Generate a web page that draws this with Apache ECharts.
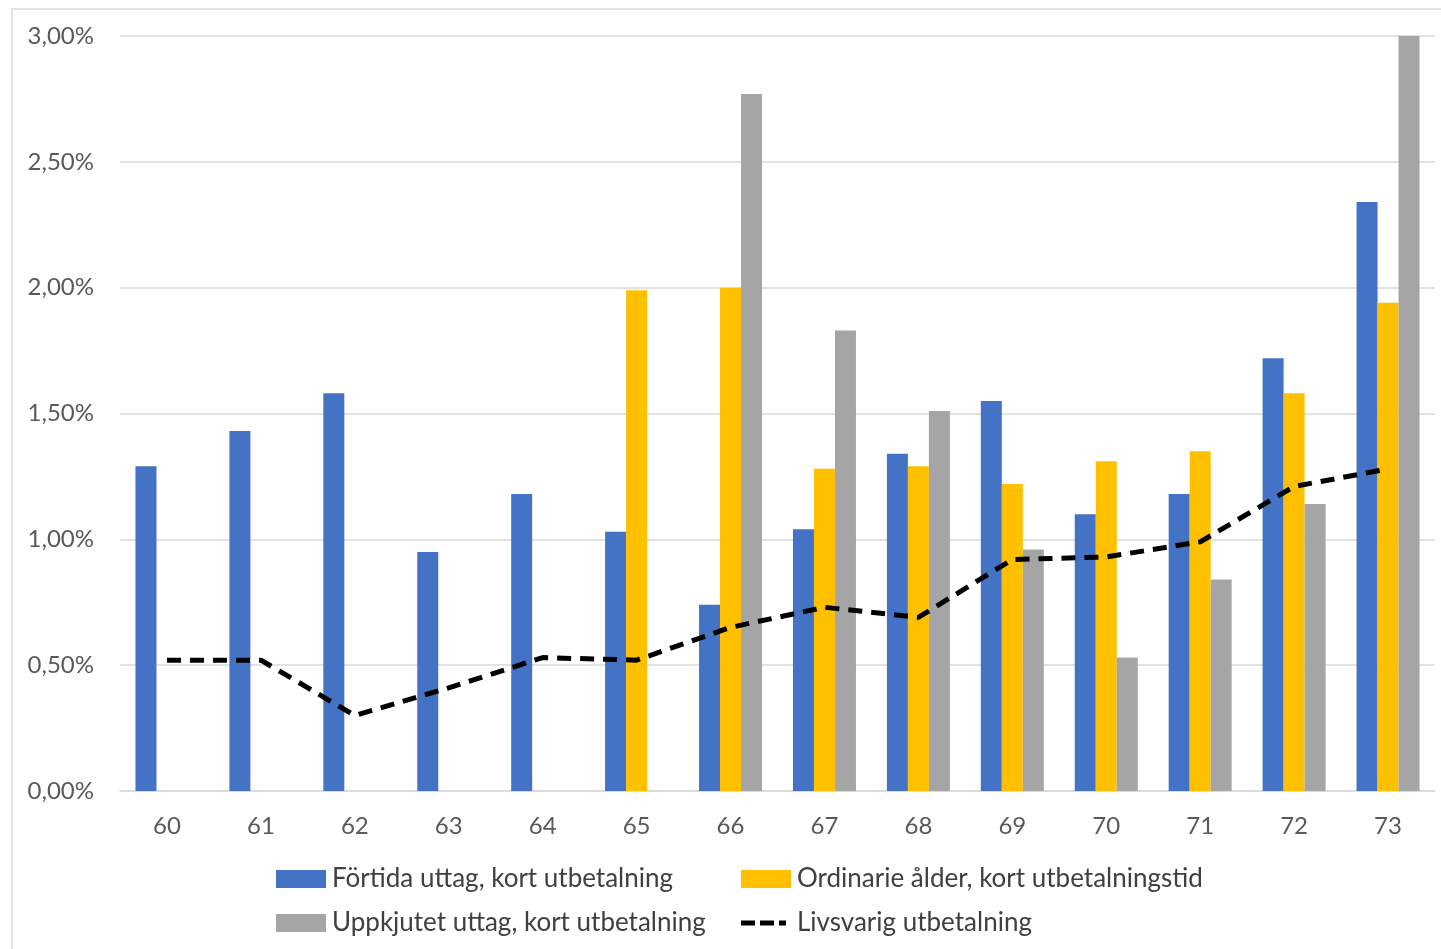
<!DOCTYPE html>
<html>
<head>
<meta charset="utf-8">
<script src="https://cdn.jsdelivr.net/npm/echarts@6/dist/echarts.min.js"></script>
<style>
    html, body { margin: 0; padding: 0; background: #fff; }
    #chart { width: 1441px; height: 949px; }
</style>
</head>
<body>
<div id="chart"></div>
<script>
// ålder vid uttag
var categories = ["60", "61", "62", "63", "64", "65", "66", "67", "68", "69", "70", "71", "72", "73"];
var legendNames = [
    "Förtida uttag, kort utbetalning",
    "Ordinarie ålder, kort utbetalningstid",
    "Uppkjutet uttag, kort utbetalning",
    "Livsvarig utbetalning"
];
// värden i procent
var fortida = [1.29, 1.43, 1.58, 0.95, 1.18, 1.03, 0.74, 1.04, 1.34, 1.55, 1.10, 1.18, 1.72, 2.34];
var ordinarie = [null, null, null, null, null, 1.99, 2.00, 1.28, 1.29, 1.22, 1.31, 1.35, 1.58, 1.94];
var uppskjutet = [null, null, null, null, null, null, 2.77, 1.83, 1.51, 0.96, 0.53, 0.84, 1.14, 3.00];
var livsvarig = [0.52, 0.52, 0.30, 0.41, 0.53, 0.52, 0.65, 0.73, 0.69, 0.92, 0.93, 0.99, 1.21, 1.28];

var myChart = echarts.init(document.getElementById("chart"));

var fontFam = "Lato, 'Open Sans', sans-serif";
// streckad ikon för linjeserien i förklaringen
var dashIcon = 'path://M0,0M50,18M0,6.5h14v5h-14zM19,6.5h14v5h-14zM38,6.5h7v5h-7z';

function barSeries(name, color, data) {
    return {
        name: name,
        type: 'bar',
        barWidth: 21,
        barGap: '0%',
        itemStyle: { color: color },
        data: data
    };
}

var legendText = { fontSize: 26, color: '#404040', fontFamily: fontFam, padding: [0, 0, 0, 1] };

var option = {
    animation: false,
    backgroundColor: '#ffffff',
    grid: {
        left: 120,
        right: 6,
        top: 36,
        bottom: 158
    },
    legend: [
        {
            orient: 'vertical',
            left: 271,
            top: 861,
            itemWidth: 50,
            itemHeight: 18,
            itemGap: 18,
            textStyle: legendText,
            data: [
                { name: legendNames[0], icon: 'rect' },
                { name: legendNames[2], icon: 'rect' }
            ]
        },
        {
            orient: 'vertical',
            left: 736,
            top: 861,
            itemWidth: 50,
            itemHeight: 18,
            itemGap: 18,
            textStyle: legendText,
            data: [
                { name: legendNames[1], icon: 'rect' },
                { name: legendNames[3], icon: dashIcon }
            ]
        }
    ],
    xAxis: {
        type: 'category',
        data: categories,
        axisTick: { show: false },
        axisLine: { lineStyle: { color: '#d9d9d9', width: 1.5 } },
        axisLabel: {
            fontSize: 24,
            color: '#595959',
            fontFamily: fontFam,
            margin: 23
        }
    },
    yAxis: {
        type: 'value',
        min: 0,
        max: 3,
        interval: 0.5,
        axisLine: { show: false },
        axisTick: { show: false },
        axisLabel: {
            fontSize: 24,
            color: '#595959',
            fontFamily: fontFam,
            margin: 26,
            formatter: function (v) {
                return v.toFixed(2).replace('.', ',') + '%';
            }
        },
        splitLine: { lineStyle: { color: '#d9d9d9', width: 1.5 } }
    },
    graphic: [
        {
            type: 'polyline',
            shape: { points: [[12, 949], [12, 9], [1441, 9]] },
            style: { stroke: '#d9d9d9', lineWidth: 1.5, fill: null },
            silent: true
        }
    ],
    series: [
        barSeries(legendNames[0], '#4472c4', fortida),
        barSeries(legendNames[1], '#ffc000', ordinarie),
        barSeries(legendNames[2], '#a5a5a5', uppskjutet),
        {
            name: legendNames[3],
            type: 'line',
            symbol: 'none',
            lineStyle: { color: '#000000', width: 5, type: [14, 9] },
            itemStyle: { color: '#000000' },
            data: livsvarig
        }
    ]
};
myChart.setOption(option);
</script>
</body>
</html>
